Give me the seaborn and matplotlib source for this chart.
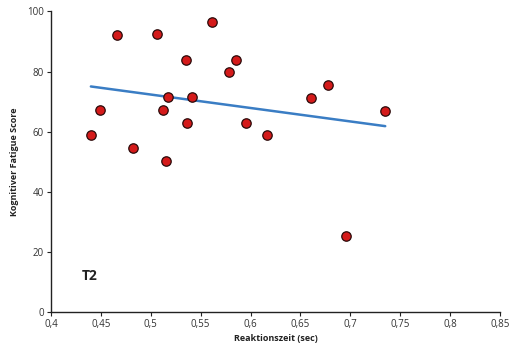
import matplotlib
matplotlib.use("Agg")
import matplotlib.pyplot as plt
import seaborn as sns
import pandas as pd
from matplotlib.ticker import FuncFormatter

reaction_time = [0.466, 0.506, 0.561, 0.535, 0.585, 0.578, 0.517, 0.541, 0.449, 0.5125,
                 0.536, 0.595, 0.440, 0.617, 0.482, 0.515, 0.661, 0.678, 0.735, 0.696]
fatigue_score = [92.1, 92.4, 96.4, 83.9, 83.9, 79.9, 71.4, 71.4, 67.3, 67.3,
                 62.9, 62.9, 58.8, 58.8, 54.6, 50.3, 71.3, 75.4, 67.0, 25.3]
x_ticks = [0.4, 0.45, 0.5, 0.55, 0.6, 0.65, 0.7, 0.75, 0.8, 0.85]
y_ticks = [0, 20, 40, 60, 80, 100]

df = pd.DataFrame({"x": reaction_time, "y": fatigue_score})

sns.set_style("white")
plt.rcParams['font.family'] = ['Open Sans', 'DejaVu Sans']

fig = plt.figure(figsize=(5.2, 3.47), dpi=100)
ax = fig.add_axes([0.098, 0.1009, 0.8635, 0.866])

sns.regplot(data=df, x="x", y="y", ax=ax, ci=None,
            scatter_kws=dict(s=46, color="#d41a1a", edgecolor="#2a0a0a", linewidths=0.9, alpha=1, zorder=3),
            line_kws=dict(color="#3a7dc4", lw=1.8, zorder=2))

ax.set_xlim(0.4, 0.85)
ax.set_ylim(0, 100)
ax.set_xticks(x_ticks)
ax.set_yticks(y_ticks)
ax.xaxis.set_major_formatter(FuncFormatter(lambda v, p: ("%g" % round(v, 2)).replace(".", ",")))
for s in ["top", "right"]:
    ax.spines[s].set_visible(False)
for s in ["left", "bottom"]:
    ax.spines[s].set_color("#222222")
    ax.spines[s].set_linewidth(1.0)
ax.tick_params(axis="both", direction="out", length=3, width=0.8, color="#222222",
               labelsize=7, labelcolor="#333333", pad=2, bottom=True, left=True)
ax.set_xlabel("Reaktionszeit (sec)", fontsize=6.5, fontweight="bold", labelpad=3, color="#222222")
ax.set_ylabel("Kognitiver Fatigue Score", fontsize=6.5, fontweight="bold", labelpad=6, color="#222222")
ax.text(0.068, 0.105, "T2", transform=ax.transAxes, fontsize=10, fontweight="bold", color="#222222")

fig.savefig("out.png", dpi=100)
